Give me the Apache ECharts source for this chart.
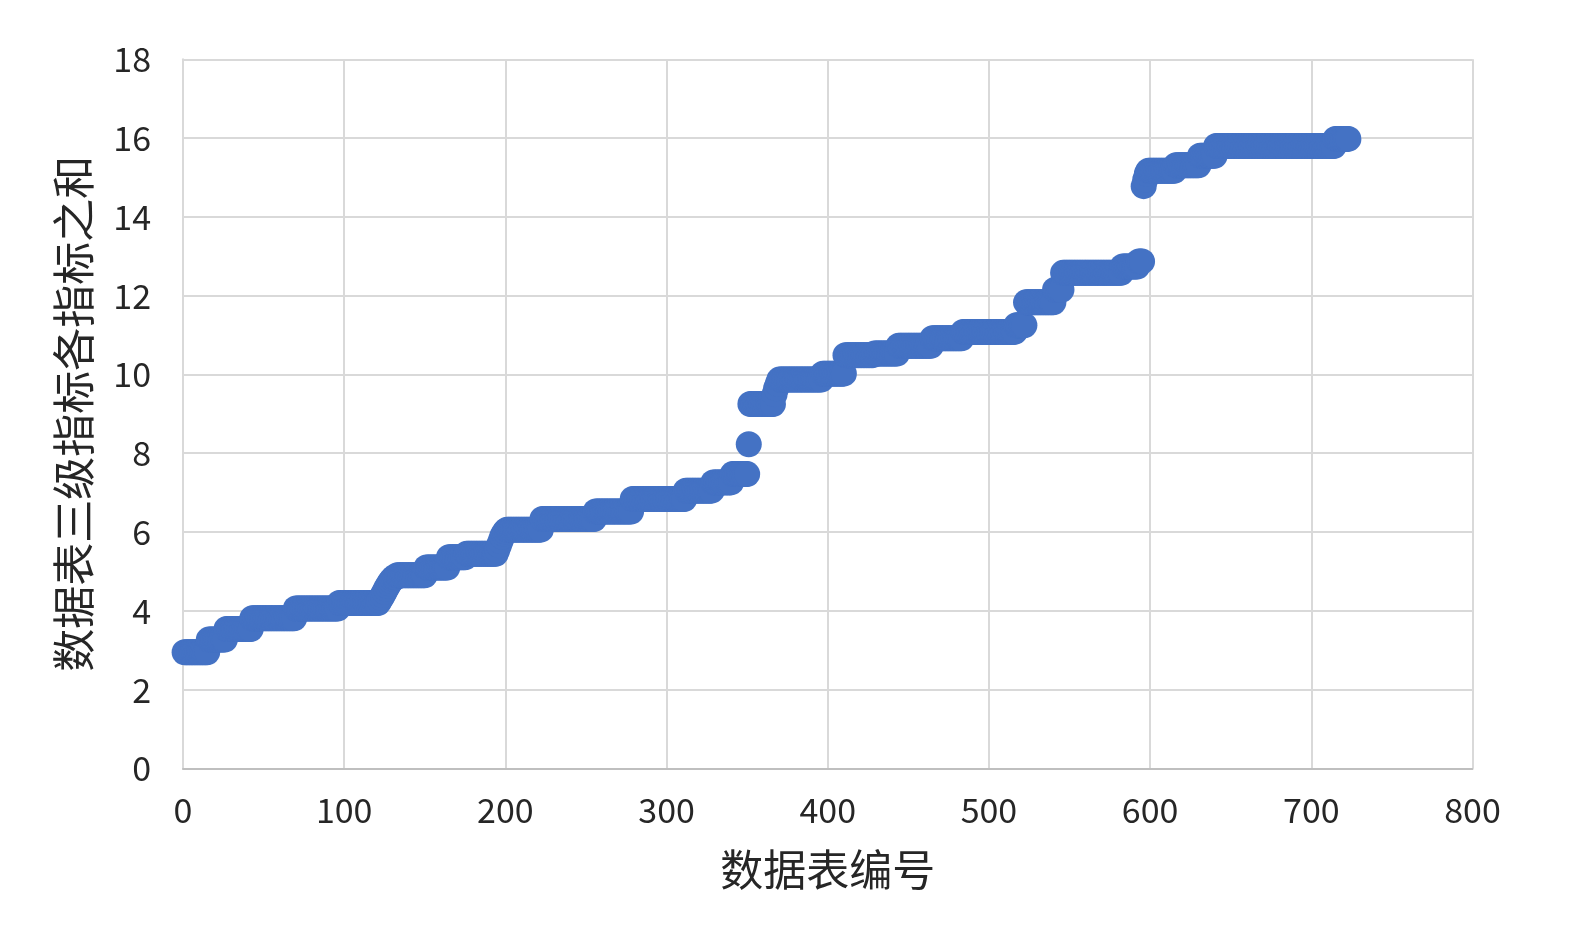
<!DOCTYPE html>
<html>
<head>
<meta charset="utf-8">
<script src="https://cdn.jsdelivr.net/npm/echarts@6/dist/echarts.min.js"></script>
<style>
html,body{margin:0;padding:0;background:#fff;}
#c{width:1575px;height:933px;}
</style>
</head>
<body>
<div id="c"></div>
<script>
// Values: each run covers table numbers up to runEnd with value runValue
const xStart = 1;
const runEnd = [15, 26, 42, 69, 96, 121, 122, 123, 124, 125, 126, 127, 128, 129, 130, 132, 150, 164, 175, 194,
  195, 196, 197, 198, 199, 200, 222, 255, 278, 311, 328, 340, 350, 351, 366, 367, 368, 369, 396, 410,
  428, 443, 464, 483, 516, 522, 540, 545, 582, 592, 595, 596, 597, 598, 615, 630, 640, 714, 723];
const runValue = [2.95, 3.27, 3.54, 3.81, 4.06, 4.2, 4.26, 4.33, 4.4, 4.48, 4.56, 4.63, 4.7, 4.76, 4.81, 4.85, 4.9, 5.1, 5.36, 5.45,
  5.55, 5.66, 5.77, 5.88, 5.96, 6.02, 6.06, 6.33, 6.52, 6.84, 7.05, 7.26, 7.47, 8.23, 9.25, 9.5, 9.65, 9.76, 9.87, 10.02,
  10.49, 10.53, 10.73, 10.92, 11.08, 11.25, 11.83, 12.15, 12.58, 12.74, 12.87, 14.78, 14.95, 15.1, 15.17, 15.31, 15.55, 15.8, 15.98];
const xTicks = [0, 100, 200, 300, 400, 500, 600, 700, 800];
const yTicks = [0, 2, 4, 6, 8, 10, 12, 14, 16, 18];
const xName = '数据表编号';
const yName = '数据表三级指标各指标之和';

const points = [];
let x = xStart;
for (let i = 0; i < runEnd.length; i++) {
  for (; x <= runEnd[i]; x++) points.push([x, runValue[i]]);
}

const chart = echarts.init(document.getElementById('c'), null, {renderer: 'canvas'});
const labelFont = {color: '#262626', fontSize: 34, fontFamily: 'Noto Sans CJK SC, Noto Sans, sans-serif'};
chart.setOption({
  animation: false,
  grid: {left: 183, right: 102.5, top: 59.3, bottom: 164.6, containLabel: false},
  xAxis: {
    type: 'value', min: xTicks[0], max: xTicks[xTicks.length - 1], interval: 100,
    name: xName, nameLocation: 'middle', nameGap: 80,
    nameTextStyle: {color: '#262626', fontSize: 43, fontFamily: 'Noto Sans CJK SC, sans-serif'},
    axisLine: {show: true, lineStyle: {color: '#bfbfbf', width: 2}},
    axisTick: {show: false},
    splitLine: {show: true, lineStyle: {color: '#d9d9d9', width: 2}},
    axisLabel: Object.assign({margin: 25}, labelFont)
  },
  yAxis: {
    type: 'value', min: yTicks[0], max: yTicks[yTicks.length - 1], interval: 2,
    name: yName, nameLocation: 'middle', nameGap: 88, nameRotate: 90,
    nameTextStyle: {color: '#262626', fontSize: 43, fontFamily: 'Noto Sans CJK SC, sans-serif'},
    axisLine: {show: true, lineStyle: {color: '#d9d9d9', width: 2}},
    axisTick: {show: false},
    splitLine: {show: true, lineStyle: {color: '#d9d9d9', width: 2}},
    axisLabel: Object.assign({margin: 32}, labelFont)
  },
  series: [{
    type: 'scatter',
    data: points,
    symbol: 'circle',
    symbolSize: 26,
    itemStyle: {color: '#4472C4', opacity: 1},
    large: false
  }]
});
</script>
</body>
</html>
